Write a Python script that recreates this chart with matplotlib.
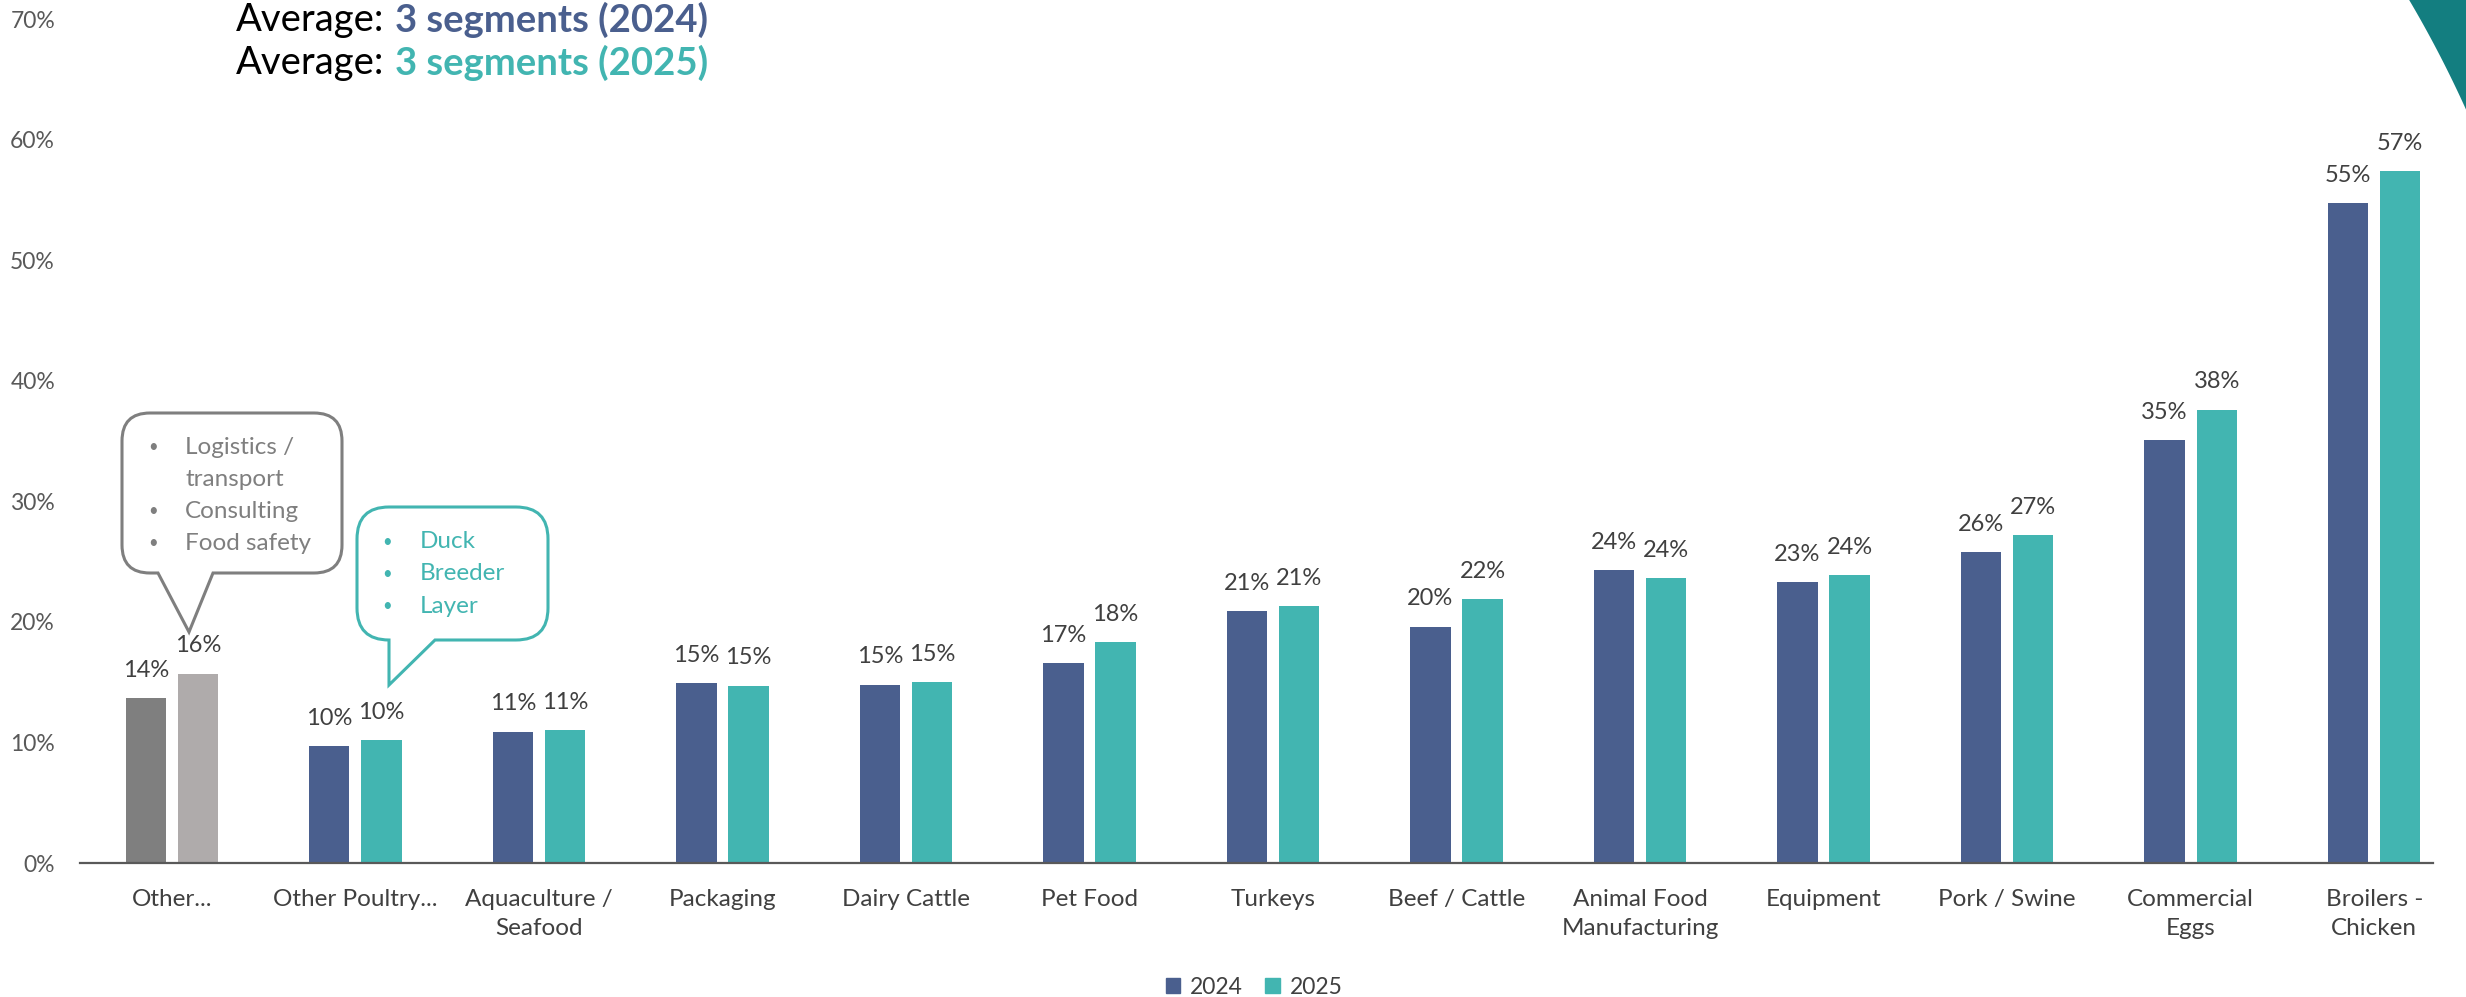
import numpy as np
import matplotlib
matplotlib.use("Agg")
import matplotlib.pyplot as plt
from matplotlib.path import Path
from matplotlib.patches import PathPatch, Polygon, Patch

plt.rcParams['font.family'] = ['Lato', 'DejaVu Sans']

# ---------------- data ----------------
categories = ["Other...", "Other Poultry...", "Aquaculture /\nSeafood", "Packaging",
              "Dairy Cattle", "Pet Food", "Turkeys", "Beef / Cattle",
              "Animal Food\nManufacturing", "Equipment", "Pork / Swine",
              "Commercial\nEggs", "Broilers -\nChicken"]
values_2024 = [13.7, 9.7, 10.9, 14.9, 14.8, 16.6, 20.9, 19.6, 24.3, 23.3, 25.8, 35.1, 54.7]
values_2025 = [15.7, 10.2, 11.0, 14.7, 15.0, 18.3, 21.3, 21.9, 23.6, 23.9, 27.2, 37.6, 57.4]
series_names = ["2024", "2025"]
y_ticks = [0, 10, 20, 30, 40, 50, 60, 70]
title_prefix = "Average:"
title_parts = ["3 segments (2024)", "3 segments (2025)"]
callout_other = [("•", "Logistics /"), ("", "transport"), ("•", "Consulting"), ("•", "Food safety")]
callout_poultry = [("•", "Duck"), ("•", "Breeder"), ("•", "Layer")]

# ---------------- style ----------------
BLUE = "#4A5F8E"
TEAL = "#42B5B1"
GRAY_D = "#7F7F7F"
GRAY_L = "#AFABAB"
ARC = "#137E80"
TXT = "#404040"

W, H = 2466, 997
fig = plt.figure(figsize=(W / 100, H / 100), dpi=100)


def px(x, y):
    return (x / W, 1 - y / H)


ax_left, ax_right, ax_top, ax_bot = 80, W, 19, 863
ax = fig.add_axes([ax_left / W, 1 - ax_bot / H, (ax_right - ax_left) / W, (ax_bot - ax_top) / H])

x = np.arange(len(categories))
bw = 0.22
off = 0.142
c24 = [GRAY_D] + [BLUE] * (len(categories) - 1)
c25 = [GRAY_L] + [TEAL] * (len(categories) - 1)
ax.bar(x - off, values_2024, bw, color=c24, zorder=2)
ax.bar(x + off, values_2025, bw, color=c25, zorder=2)

for xi, v in zip(x - off, values_2024):
    ax.annotate(f"{v:.0f}%", xy=(xi, v), xytext=(0, 20), textcoords="offset points",
                ha="center", va="center", fontsize=17, color=TXT)
for xi, v in zip(x + off, values_2025):
    ax.annotate(f"{v:.0f}%", xy=(xi, v), xytext=(0, 20), textcoords="offset points",
                ha="center", va="center", fontsize=17, color=TXT)

ax.set_xlim(-0.5, len(categories) - 0.5)
ax.set_ylim(0, 70)
ax.set_yticks(y_ticks)
ax.set_yticklabels([f"{t}%" for t in y_ticks], fontsize=16.5, color="#595959")
ax.set_xticks(x)
ax.set_xticklabels(categories, fontsize=17.5, color=TXT, linespacing=1.45)
ax.tick_params(axis="both", length=0)
ax.tick_params(axis="y", pad=18)
ax.tick_params(axis="x", pad=19)
for s in ["top", "right", "left"]:
    ax.spines[s].set_visible(False)
ax.spines["bottom"].set_color("#595959")
ax.spines["bottom"].set_linewidth(1.6)
ax.spines["bottom"].set_bounds(-0.5, 12.32)
ax.patch.set_visible(False)

# ---------------- title ----------------
for i, (ypix, col) in enumerate([(20, BLUE), (63, TEAL)]):
    t1 = fig.text(*px(236, ypix), title_prefix, fontsize=27.5, color="black", va="center", ha="left")
    ax.annotate(title_parts[i], xy=(1, 0.5), xycoords=t1, xytext=(8, 0), textcoords="offset points",
                fontsize=27.5, fontweight="bold", color=col, va="center", ha="left",
                annotation_clip=False)

# ---------------- legend ----------------
handles = [Patch(color=BLUE), Patch(color=TEAL)]
fig.legend(handles, series_names, loc="center", bbox_to_anchor=(0.5085, 1 - 987 / H), ncol=2,
           frameon=False, fontsize=16.5, handlelength=0.65, handleheight=0.65,
           columnspacing=1.0, handletextpad=0.4, labelcolor=TXT)


# ---------------- callouts ----------------
def callout(left, top, right, bottom, r, bx1, bx2, tipx, tipy, color):
    verts = [(left + r, top), (right - r, top), (right, top), (right, top + r),
             (right, bottom - r), (right, bottom), (right - r, bottom),
             (bx2, bottom), (tipx, tipy), (bx1, bottom),
             (left + r, bottom), (left, bottom), (left, bottom - r),
             (left, top + r), (left, top), (left + r, top), (left + r, top)]
    codes = [Path.MOVETO, Path.LINETO, Path.CURVE3, Path.CURVE3,
             Path.LINETO, Path.CURVE3, Path.CURVE3,
             Path.LINETO, Path.LINETO, Path.LINETO,
             Path.LINETO, Path.CURVE3, Path.CURVE3,
             Path.LINETO, Path.CURVE3, Path.CURVE3, Path.CLOSEPOLY]
    verts = [px(a, b) for a, b in verts]
    patch = PathPatch(Path(verts, codes), facecolor="white", edgecolor=color, lw=2.2,
                      transform=fig.transFigure, zorder=5)
    fig.patches.append(patch)


callout(122, 413, 342, 573, 28, 158, 213, 189, 632, GRAY_D)
for (b, t), yy in zip(callout_other, [447, 479, 511, 543]):
    if b:
        fig.text(*px(153, yy), b, fontsize=12, color=GRAY_D, ha="center", va="center", zorder=6)
    fig.text(*px(185, yy), t, fontsize=17.5, color=GRAY_D, ha="left", va="center", zorder=6)

callout(357, 507, 548, 640, 32, 389, 435, 389, 685, TEAL)
for (b, t), yy in zip(callout_poultry, [542, 574, 606]):
    fig.text(*px(387, yy), b, fontsize=12, color=TEAL, ha="center", va="center", zorder=6)
    fig.text(*px(420, yy), t, fontsize=17.5, color=TEAL, ha="left", va="center", zorder=6)

# ---------------- decorative arc (top-right) ----------------
p1, p2, p3 = np.array([2408.0, -2.0]), np.array([2437.0, 50.0]), np.array([2468.0, 114.0])
A = np.array([[2 * (p2 - p1)[0], 2 * (p2 - p1)[1]], [2 * (p3 - p1)[0], 2 * (p3 - p1)[1]]])
bvec = np.array([p2 @ p2 - p1 @ p1, p3 @ p3 - p1 @ p1])
cen = np.linalg.solve(A, bvec)
rad = np.linalg.norm(p1 - cen)
a1 = np.arctan2(p1[1] - cen[1], p1[0] - cen[0])
a3 = np.arctan2(p3[1] - cen[1], p3[0] - cen[0])
angs = np.linspace(a1, a3, 60)
pts = [(cen[0] + rad * np.cos(a), cen[1] + rad * np.sin(a)) for a in angs]
pts += [(W + 5, 114), (W + 5, -5), (2400, -5)]
fig.patches.append(Polygon([px(a, b) for a, b in pts], closed=True, facecolor=ARC,
                           edgecolor="none", transform=fig.transFigure, zorder=1))

fig.savefig("out.png", dpi=100, facecolor="white")
